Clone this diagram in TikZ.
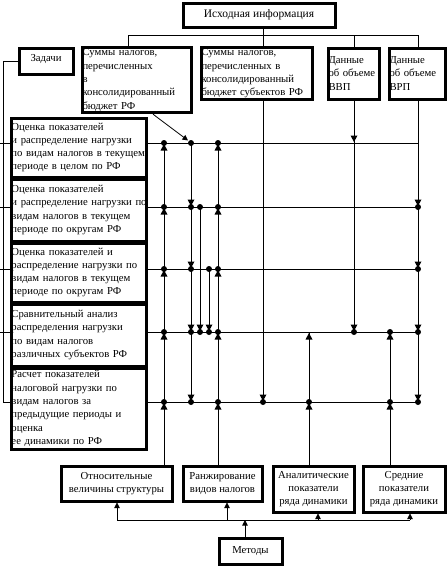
\documentclass[tikz,border=0pt]{standalone}
\usepackage{fontspec}
\setmainfont{Liberation Serif}
\usetikzlibrary{positioning,arrows.meta,calc}

% marks where a column meets a row
\newcommand\mkdot[1]{\fill (#1) circle (3pt);}
\newcommand\mkup[1]{\fill (#1) circle (3pt); \fill (#1) ++(0,1) -- ++(-3.5,6.5) -- ++(7,0) -- cycle;}
\newcommand\mkdn[1]{\fill (#1) circle (3pt); \fill (#1) ++(0,-1) -- ++(-3.5,-6.5) -- ++(7,0) -- cycle;}
\newcommand\tipup[1]{\fill (#1) ++(0,1) -- ++(-3.5,6.5) -- ++(7,0) -- cycle;}
\newcommand\tipdn[1]{\fill (#1) ++(0,-1) -- ++(-3.5,-6.5) -- ++(7,0) -- cycle;}

\begin{document}
\begin{tikzpicture}[x=1pt,y=-1pt,
  box/.style={rectangle,draw,line width=3pt,inner sep=1.5pt,font=\fontsize{10.7}{13.3}\selectfont},
  task/.style={box,align=left,inner xsep=0.5pt,text width=134pt,minimum width=135pt},
  src/.style={box,align=left,inner xsep=0.5pt,text width=#1},
  meth/.style={box,align=center},
  line/.style={line width=0.8pt},
  arrow/.style={-{Triangle[width=5.5pt,length=5.5pt]},line width=0.8pt},
]
\useasboundingbox (0,0) rectangle (447,566);

% Source data
\node[meth,minimum width=152pt,minimum height=24pt,font=\fontsize{11.5}{13}\selectfont] (top) at (259,15) {Исходная информация};
\node[meth,minimum width=54pt,minimum height=26pt,text depth=7pt] (zad) at (46,61) {Задачи};
\node[src=108pt,minimum height=64pt] (sum1) at (136.5,80) {Суммы налогов,\\перечисленных\\в\\консолидированный\\бюджет РФ};
\node[src=110pt,minimum height=51pt] (sum2) at (256.5,73.5) {Суммы налогов,\\перечисленных в\\консолидированный\\бюджет субъектов РФ};
\node[src=50pt,minimum height=51pt] (vvp) at (353.5,73.5) {Данные\\об объеме\\ВВП};
\node[src=55pt,minimum height=51pt] (vrp) at (417,73.5) {Данные\\об объеме\\ВРП};

% Tasks
\node[task,minimum height=59pt] (t1) at (78.5,147.5) {Оценка показателей\\и распределение нагрузки\\по видам налогов в текущем\\периоде в целом по РФ};
\node[task,minimum height=62pt] (t2) at (78.5,210) {Оценка показателей\\\mbox{и распределение нагрузки по}\\видам налогов в текущем\\периоде по округам РФ};
\node[task,minimum height=59pt] (t3) at (78.5,272.5) {Оценка показателей и\\распределение нагрузки по\\видам налогов в текущем\\периоде по округам РФ};
\node[task,minimum height=62pt] (t4) at (78.5,335) {Сравнительный анализ\\распределения нагрузки\\по видам налогов\\различных субъектов РФ};
\node[task,minimum height=81pt] (t5) at (78.5,408.5) {Расчет показателей\\налоговой нагрузки по\\видам налогов за\\предыдущие периоды и\\оценка\\ее динамики по РФ};

% Methods
\node[meth,minimum width=111pt,minimum height=35pt] (otn) at (116.5,483.5) {Относительные\\величины структуры};
\node[meth,minimum width=79pt,minimum height=35pt] (rank) at (222.5,483.5) {Ранжирование\\видов налогов};
\node[meth,minimum width=81pt,minimum height=46pt] (anal) at (313.5,489) {Аналитические\\показатели\\ряда динамики};
\node[meth,minimum width=82pt,minimum height=46pt] (sred) at (404,489) {Средние\\показатели\\ряда динамики};
\node[meth,minimum width=63pt,minimum height=26pt] (met) at (250.5,551) {Методы};

% rows and columns of the grid
\coordinate (r1) at (0,143);
\coordinate (r2) at (0,207);
\coordinate (r3) at (0,269);
\coordinate (r4) at (0,332);
\coordinate (r5) at (0,402);
\coordinate (c0) at (128,0);
\coordinate (c1) at (164,0);
\coordinate (c2) at (191,0);
\coordinate (c3) at (200,0);
\coordinate (c4) at (209,0);
\coordinate (c5) at (218,0);
\coordinate (c6) at (263,0);
\coordinate (c7) at (309,0);
\coordinate (c8) at (354,0);
\coordinate (c9) at (390,0);
\coordinate (c10) at (418,0);
\coordinate (zl) at (3,0);
\coordinate (j) at (0,35);

% Top tree
\draw[line] (top.south-|c6) -- (c6|-j);
\draw[line] (sum1.north-|c0) |- (c10|-j) -- (vrp.north-|c10);
\draw[line] (c6|-j) -- (sum2.north-|c6);
\draw[line] (c8|-j) -- (vvp.north-|c8);

% Tasks bracket
\draw[line] (zad.west) -| (zl|-r5) -- (t5.west|-r5);
\foreach \r/\t in {r1/t1,r2/t2,r3/t3,r4/t4}
  {\draw[line] ([xshift=-3pt]zl|-\r) -- (\t.west|-\r);}

% Rows
\foreach \r/\t in {r1/t1,r2/t2,r3/t3,r4/t4,r5/t5}
  {\draw[line] (\t.east|-\r) -- (c10|-\r);}

% Columns
\draw[line] (otn.north-|c1) -- (c1|-r1);
\draw[line] (c2|-r1) -- (c2|-r5);
\draw[line] (c3|-r2) -- (c3|-r4);
\draw[line] (c4|-r3) -- (c4|-r4);
\draw[line] (rank.north-|c5) -- (c5|-r1);
\draw[line] (sum2.south-|c6) -- (c6|-r5);
\draw[line] (anal.north-|c7) -- (c7|-r4);
\draw[line] (vvp.south-|c8) -- (c8|-r4);
\draw[line] (sred.north-|c9) -- (c9|-r4);
\draw[line] (vrp.south-|c10) -- (c10|-r5);
\draw[arrow] ($(sum1.south)+(16.5,0)$) -- ($(c2|-r1)+(-3,-2.5)$);

% Marks
\foreach \p in {c1|-r1,c1|-r2,c1|-r3,c1|-r4,c1|-r5,c5|-r1,c5|-r2,c5|-r3,c5|-r4,c5|-r5,c7|-r5,c9|-r4,c9|-r5}
  {\mkup{\p}}
\foreach \p in {c2|-r2,c2|-r3,c2|-r4,c2|-r5,c3|-r4,c4|-r4,c8|-r4,c6|-r5,c10|-r2,c10|-r3,c10|-r4,c10|-r5}
  {\mkdn{\p}}
\foreach \p in {c2|-r1,c3|-r2,c4|-r3}
  {\mkdot{\p}}
\tipdn{c8|-r1}
\tipup{c7|-r4}

% Methods tree
\coordinate (m0) at (245,520);
\coordinate (m1) at (117,520);
\coordinate (m2) at (227,520);
\coordinate (m3) at (318,520);
\coordinate (m4) at (410,520);
\draw[line] (m1) -- (m4);
\draw[arrow] (met.north-|m0) -- (m0);
\foreach \m/\b in {m1/otn,m2/rank,m3/anal,m4/sred}
  {\draw[arrow] (\m) -- (\b.south-|\m);}

\end{tikzpicture}
\end{document}
